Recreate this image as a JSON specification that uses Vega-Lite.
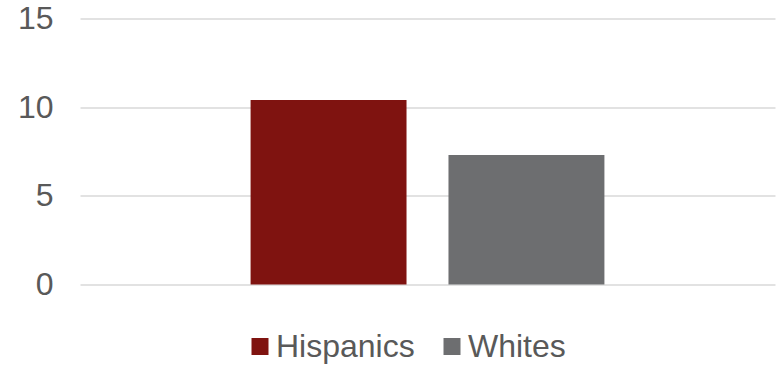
{
  "$schema": "https://vega.github.io/schema/vega-lite/v6.json",
  "autosize": "none",
  "width": 695,
  "height": 266,
  "padding": {"left": 80, "top": 18.5, "right": 8, "bottom": 81.5},
  "background": "white",
  "config": {
    "view": {"stroke": null},
    "font": "Liberation Sans"
  },
  "data": {
    "values": [
      {"group": "Hispanics", "value": 10.4},
      {"group": "Whites", "value": 7.3}
    ]
  },
  "mark": {"type": "bar"},
  "encoding": {
    "x": {
      "field": "group",
      "type": "nominal",
      "sort": ["Hispanics", "Whites"],
      "scale": {"paddingInner": 0.212, "paddingOuter": 0.862},
      "axis": null
    },
    "y": {
      "field": "value",
      "type": "quantitative",
      "scale": {"domain": [0, 15], "nice": false},
      "axis": {
        "title": null,
        "values": [0, 5, 10, 15],
        "domain": false,
        "ticks": false,
        "labelPadding": 27,
        "labelFont": "Liberation Sans",
        "labelFontSize": 32,
        "labelColor": "#595959",
        "gridColor": "#d9d9d9",
        "gridWidth": 1.5
      }
    },
    "color": {
      "field": "group",
      "type": "nominal",
      "sort": ["Hispanics", "Whites"],
      "scale": {"domain": ["Hispanics", "Whites"], "range": ["#7f1310", "#6d6e70"]},
      "legend": {
        "title": null,
        "orient": "none",
        "direction": "horizontal",
        "legendX": 164,
        "legendY": 312,
        "symbolType": "square",
        "symbolSize": 289,
        "symbolStrokeWidth": 0,
        "labelFont": "Liberation Sans",
        "labelFontSize": 32,
        "labelColor": "#595959",
        "labelOffset": 0,
        "columnPadding": 21,
        "padding": 0
      }
    }
  }
}
